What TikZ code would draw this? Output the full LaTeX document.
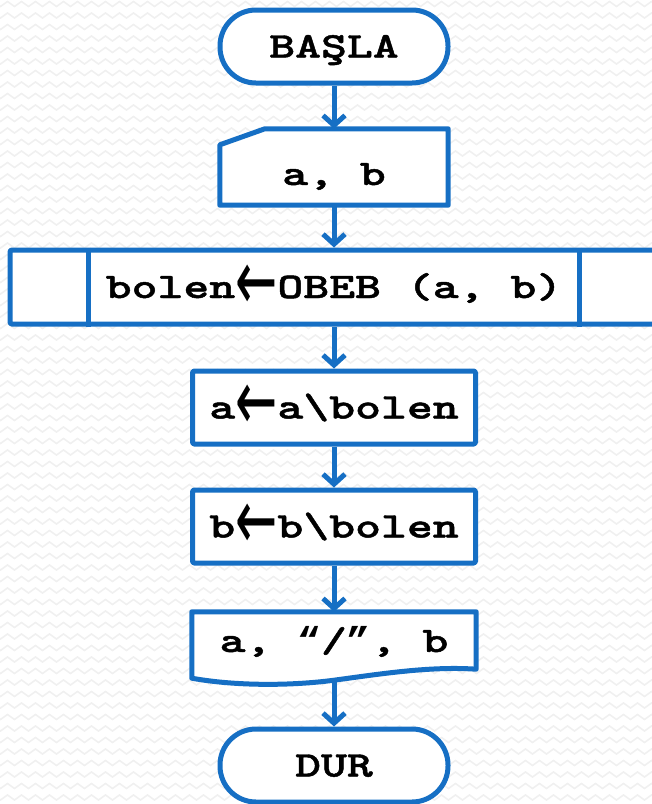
\documentclass[tikz,border=0pt]{standalone}
\usepackage{fontspec}
\usepackage{graphicx}
\newfontfamily\flowfont{lmmonolt10-bold.otf}[FakeStretch=1.37, FakeBold=1.3]
\newfontfamily\arrowfont{DejaVu Sans}
\newfontfamily\quotefont{Liberation Mono}[FakeStretch=1.1]
\usetikzlibrary{arrows.meta,backgrounds,decorations.pathmorphing}
\definecolor{flowblue}{RGB}{22,111,196}
\newcommand{\getsym}{\raisebox{-12pt}{\scalebox{1.4}[2.4]{\arrowfont ←}}}
\newcommand{\tirnak}[1]{{\quotefont\bfseries “}#1{\quotefont\bfseries ”}}
\tikzset{
    flowline/.style={draw=flowblue, line width=5pt, line join=round},
    shapebox/.style={font=\flowfont\fontsize{36}{44}\selectfont,
        text height=22pt, text depth=0pt, minimum width=283pt, minimum height=73pt},
    procbox/.style={shapebox, flowline, fill=white, rounded corners=1.5pt},
    termbox/.style={shapebox, flowline, fill=white, minimum width=228pt, rounded corners=36pt},
    arrowline/.style={flowline, -{Straight Barb[length=10pt,width=22pt]}},
    bgzig/.style={draw=black!6, line width=1.6pt, decorate,
        decoration={zigzag, segment length=14pt, amplitude=2.5pt}}
}
\begin{document}
\begin{tikzpicture}[x=1pt, y=-1pt]
            \useasboundingbox (0,0) rectangle (652,804);
            \begin{scope}[on background layer]
                \foreach \r in {0,...,70}
                    \draw[bgzig] (-10,{\r*11.5+4}) -- (662,{\r*11.5+4});
            \end{scope}

            \node[termbox] (basla) at (334,46.5) {BAŞLA};
            \node[shapebox, minimum width=228pt, minimum height=76pt, text height=36pt] (ab) at (334,167) {a, b};
            \node[procbox, minimum width=648pt, minimum height=74pt] (obeb) at (334,287) {bolen\getsym OBEB (a, b)};
            \node[procbox] (abol) at (334,407.5) {a\getsym a\textbackslash bolen};
            \node[procbox] (bbol) at (334,526.5) {b\getsym b\textbackslash bolen};
            \node[shapebox, minimum width=284pt, minimum height=68pt, text depth=10pt] (yaz) at (334,646) {a, \tirnak{/}, b};
            \node[termbox] (dur) at (334,765.5) {DUR};

            % input and output outlines
            \begin{scope}[on background layer]
                \draw[flowline, fill=white] (ab.south west) -- ([yshift=-16pt]ab.north west)
                    -- ([xshift=45pt]ab.north west) -- (ab.north east) -- (ab.south east) -- cycle;
                \draw[flowline, fill=white] ([yshift=2pt]yaz.south west) -- (yaz.north west)
                    -- (yaz.north east) -- ([yshift=11pt]yaz.south east)
                    .. controls (430,666) and (380,674) .. (yaz.south)
                    .. controls (290,686) and (235,686) .. ([yshift=2pt]yaz.south west) -- cycle;
            \end{scope}
            \draw[flowline] ([xshift=81pt]obeb.north west) -- ([xshift=81pt]obeb.south west);
            \draw[flowline] ([xshift=-81pt]obeb.north east) -- ([xshift=-81pt]obeb.south east);

            \draw[arrowline] (basla.south) -- (ab.north);
            \draw[arrowline] (ab.south) -- (obeb.north);
            \draw[arrowline] (obeb.south) -- (abol.north);
            \draw[arrowline] (abol.south) -- (bbol.north);
            \draw[arrowline] (bbol.south) -- (yaz.north);
            \draw[arrowline] (yaz.south) -- (dur.north);
        \end{tikzpicture}
\end{document}
